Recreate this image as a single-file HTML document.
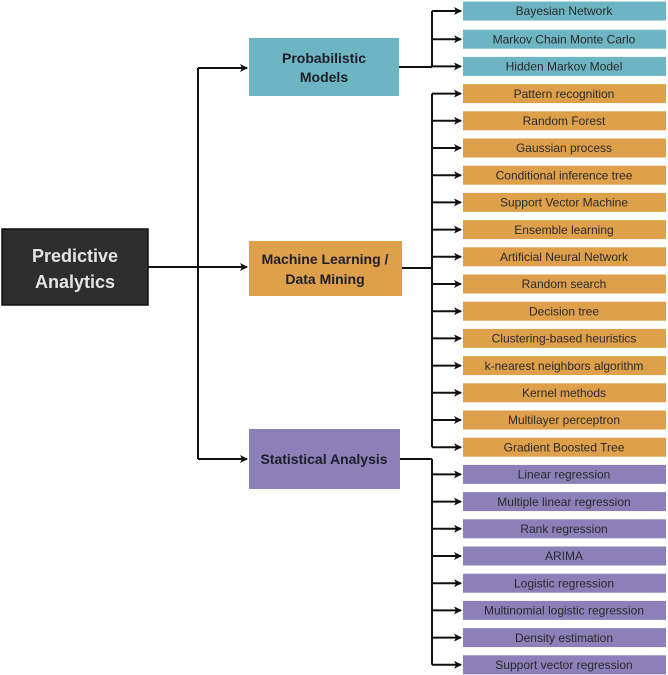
<!DOCTYPE html>
<html><head><meta charset="utf-8"><style>
html,body{margin:0;padding:0;background:#fff;}
svg{display:block;}
text{font-family:"Liberation Sans",sans-serif;}
.l{font-size:12px;fill:#2a2a2a;text-anchor:middle;}
.m{font-size:14px;font-weight:bold;fill:#1e1e2a;text-anchor:middle;}
</style></head><body>
<svg width="668" height="675" viewBox="0 0 668 675" xmlns="http://www.w3.org/2000/svg">
<defs><marker id="a" markerWidth="8" markerHeight="8" refX="7" refY="4" orient="auto" markerUnits="userSpaceOnUse"><path d="M0,0 L8,4 L0,8 L2,4 Z" fill="#111"/></marker></defs>
<g stroke="#111" stroke-width="2" fill="none">
<path d="M148,267 H198"/>
<path d="M198,68 V459"/>
<path d="M198,68 H247" marker-end="url(#a)"/>
<path d="M198,267 H247" marker-end="url(#a)"/>
<path d="M198,459 H247" marker-end="url(#a)"/>
<path d="M399,67 H432 M432,11 V67"/>
<path d="M402,268 H432 M432,93.6 V447.2"/>
<path d="M400,459 H432 M432,459 V664.8"/>
<path d="M432,11 H461" marker-end="url(#a)"/>
<path d="M432,39.2 H461" marker-end="url(#a)"/>
<path d="M432,66.4 H461" marker-end="url(#a)"/>
<path d="M432,93.6 H461" marker-end="url(#a)"/>
<path d="M432,120.8 H461" marker-end="url(#a)"/>
<path d="M432,148 H461" marker-end="url(#a)"/>
<path d="M432,175.2 H461" marker-end="url(#a)"/>
<path d="M432,202.4 H461" marker-end="url(#a)"/>
<path d="M432,229.6 H461" marker-end="url(#a)"/>
<path d="M432,256.8 H461" marker-end="url(#a)"/>
<path d="M432,284 H461" marker-end="url(#a)"/>
<path d="M432,311.2 H461" marker-end="url(#a)"/>
<path d="M432,338.4 H461" marker-end="url(#a)"/>
<path d="M432,365.6 H461" marker-end="url(#a)"/>
<path d="M432,392.8 H461" marker-end="url(#a)"/>
<path d="M432,420 H461" marker-end="url(#a)"/>
<path d="M432,447.2 H461" marker-end="url(#a)"/>
<path d="M432,474.4 H461" marker-end="url(#a)"/>
<path d="M432,501.6 H461" marker-end="url(#a)"/>
<path d="M432,528.8 H461" marker-end="url(#a)"/>
<path d="M432,556 H461" marker-end="url(#a)"/>
<path d="M432,583.2 H461" marker-end="url(#a)"/>
<path d="M432,610.4 H461" marker-end="url(#a)"/>
<path d="M432,637.6 H461" marker-end="url(#a)"/>
<path d="M432,664.8 H461" marker-end="url(#a)"/>
</g>
<rect x="2" y="229" width="146" height="76" fill="#2e2e2e" stroke="#111" stroke-width="1.5"/>
<text x="75" y="262" font-size="18" font-weight="bold" fill="#e4e4e4" text-anchor="middle">Predictive</text>
<text x="75" y="288" font-size="18" font-weight="bold" fill="#e4e4e4" text-anchor="middle">Analytics</text>
<rect x="249" y="38" width="150" height="58" fill="#6db5c3"/>
<text class="m" x="324" y="63">Probabilistic</text>
<text class="m" x="324" y="82">Models</text>
<rect x="249" y="241" width="153" height="55" fill="#dea04b"/>
<text class="m" x="325" y="264">Machine Learning /</text>
<text class="m" x="325" y="284">Data Mining</text>
<rect x="249" y="429" width="151" height="60" fill="#8b80b8"/>
<text class="m" x="324" y="464">Statistical Analysis</text>
<g fill="#6db5c3">
<rect x="463" y="1.5" width="203" height="19"/><rect x="463" y="29.7" width="203" height="19"/><rect x="463" y="56.9" width="203" height="19"/>
</g>
<g fill="#dea04b">
<rect x="463" y="84.1" width="203" height="19"/><rect x="463" y="111.3" width="203" height="19"/><rect x="463" y="138.5" width="203" height="19"/><rect x="463" y="165.7" width="203" height="19"/><rect x="463" y="192.9" width="203" height="19"/><rect x="463" y="220.1" width="203" height="19"/><rect x="463" y="247.3" width="203" height="19"/><rect x="463" y="274.5" width="203" height="19"/><rect x="463" y="301.7" width="203" height="19"/><rect x="463" y="328.9" width="203" height="19"/><rect x="463" y="356.1" width="203" height="19"/><rect x="463" y="383.3" width="203" height="19"/><rect x="463" y="410.5" width="203" height="19"/><rect x="463" y="437.7" width="203" height="19"/>
</g>
<g fill="#8b80b8">
<rect x="463" y="464.9" width="203" height="19"/><rect x="463" y="492.1" width="203" height="19"/><rect x="463" y="519.3" width="203" height="19"/><rect x="463" y="546.5" width="203" height="19"/><rect x="463" y="573.7" width="203" height="19"/><rect x="463" y="600.9" width="203" height="19"/><rect x="463" y="628.1" width="203" height="19"/><rect x="463" y="655.3" width="203" height="19"/>
</g>
<g>
<text class="l" x="564" y="15.2">Bayesian Network</text>
<text class="l" x="564" y="43.4">Markov Chain Monte Carlo</text>
<text class="l" x="564" y="70.6">Hidden Markov Model</text>
<text class="l" x="564" y="97.8">Pattern recognition</text>
<text class="l" x="564" y="125">Random Forest</text>
<text class="l" x="564" y="152.2">Gaussian process</text>
<text class="l" x="564" y="179.4">Conditional inference tree</text>
<text class="l" x="564" y="206.6">Support Vector Machine</text>
<text class="l" x="564" y="233.8">Ensemble learning</text>
<text class="l" x="564" y="261">Artificial Neural Network</text>
<text class="l" x="564" y="288.2">Random search</text>
<text class="l" x="564" y="315.4">Decision tree</text>
<text class="l" x="564" y="342.6">Clustering-based heuristics</text>
<text class="l" x="564" y="369.8">k-nearest neighbors algorithm</text>
<text class="l" x="564" y="397">Kernel methods</text>
<text class="l" x="564" y="424.2">Multilayer perceptron</text>
<text class="l" x="564" y="451.4">Gradient Boosted Tree</text>
<text class="l" x="564" y="478.6">Linear regression</text>
<text class="l" x="564" y="505.8">Multiple linear regression</text>
<text class="l" x="564" y="533">Rank regression</text>
<text class="l" x="564" y="560.2">ARIMA</text>
<text class="l" x="564" y="587.4">Logistic regression</text>
<text class="l" x="564" y="614.6">Multinomial logistic regression</text>
<text class="l" x="564" y="641.8">Density estimation</text>
<text class="l" x="564" y="669">Support vector regression</text>
</g>
</svg>
</body></html>
